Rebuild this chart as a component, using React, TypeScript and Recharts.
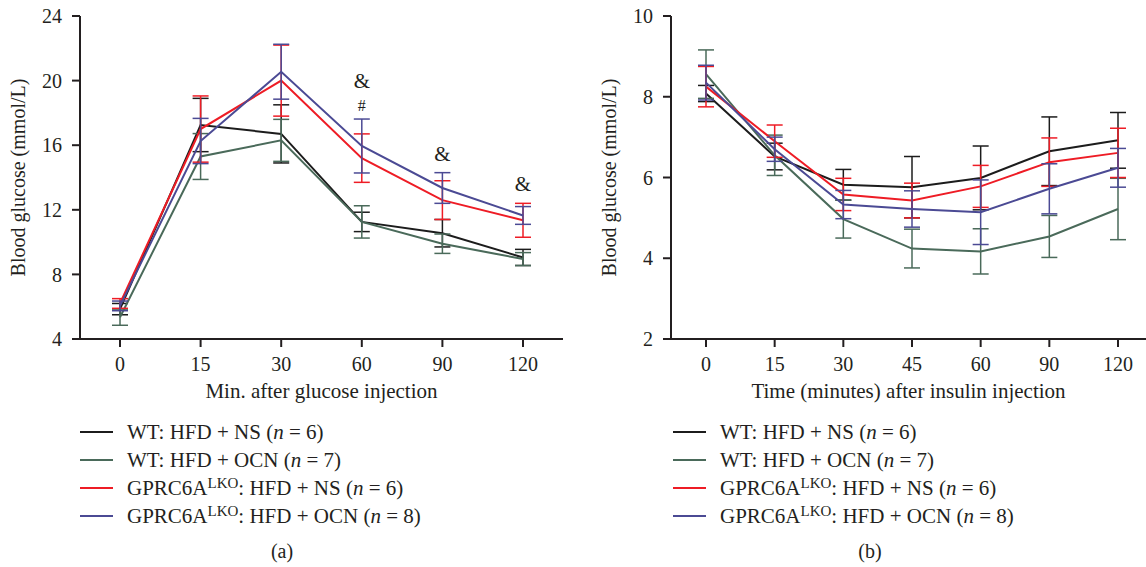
import React from 'react';
import {
  LineChart,
  Line,
  XAxis,
  YAxis,
  ErrorBar,
  Legend,
  ReferenceDot,
} from 'recharts';

const FONT = '"Liberation Serif", "DejaVu Serif", serif';
const INK = '#231f20';

// (a) glucose tolerance test
const gttTimes = ['0', '15', '30', '60', '90', '120'];
const gttWtNs = [5.85, 17.25, 16.7, 11.25, 10.55, 9.05];
const gttWtNsErr = [0.35, 1.65, 1.8, 0.6, 0.85, 0.5];
const gttWtOcn = [5.35, 15.3, 16.3, 11.25, 9.9, 8.95];
const gttWtOcnErr = [0.5, 1.42, 1.3, 1.0, 0.6, 0.4];
const gttKoNs = [6.2, 17.0, 20.0, 15.2, 12.6, 11.35];
const gttKoNsErr = [0.3, 2.05, 2.2, 1.5, 1.2, 1.05];
const gttKoOcn = [6.05, 16.26, 20.55, 15.95, 13.35, 11.65];
const gttKoOcnErr = [0.3, 1.4, 1.7, 1.67, 0.95, 0.55];
const gttTicks = [4, 8, 12, 16, 20, 24];

// significance marks on (a)
const gttMarkTime = ['60', '60', '90', '120'];
const gttMarkText = ['&', '#', '&', '&'];
const gttMarkLevel = [20.0, 18.5, 15.5, 13.65];

// (b) insulin tolerance test
const ittTimes = ['0', '15', '30', '45', '60', '90', '120'];
const ittWtNs = [8.08, 6.52, 5.82, 5.76, 5.99, 6.65, 6.92];
const ittWtNsErr = [0.2, 0.33, 0.38, 0.76, 0.79, 0.85, 0.69];
const ittWtOcn = [8.56, 6.55, 4.97, 4.24, 4.17, 4.54, 5.22];
const ittWtOcnErr = [0.6, 0.5, 0.47, 0.48, 0.56, 0.52, 0.76];
const ittKoNs = [8.25, 6.9, 5.58, 5.43, 5.78, 6.38, 6.61];
const ittKoNsErr = [0.5, 0.4, 0.4, 0.43, 0.52, 0.6, 0.61];
const ittKoOcn = [8.35, 6.7, 5.33, 5.22, 5.14, 5.72, 6.24];
const ittKoOcnErr = [0.43, 0.3, 0.35, 0.45, 0.8, 0.62, 0.48];
const ittTicks = [2, 4, 6, 8, 10];

const SERIES = [
  { key: 'wtNs', color: '#1c1c1c', strain: 'WT', sup: '', treat: 'NS', n: 6 },
  { key: 'wtOcn', color: '#4a6a5a', strain: 'WT', sup: '', treat: 'OCN', n: 7 },
  { key: 'koNs', color: '#ee1c25', strain: 'GPRC6A', sup: 'LKO', treat: 'NS', n: 6 },
  { key: 'koOcn', color: '#4b4a94', strain: 'GPRC6A', sup: 'LKO', treat: 'OCN', n: 8 },
];

const gttRows = gttTimes.map((t, i) => ({
  time: t,
  wtNs: gttWtNs[i], wtNsErr: gttWtNsErr[i],
  wtOcn: gttWtOcn[i], wtOcnErr: gttWtOcnErr[i],
  koNs: gttKoNs[i], koNsErr: gttKoNsErr[i],
  koOcn: gttKoOcn[i], koOcnErr: gttKoOcnErr[i],
}));

const ittRows = ittTimes.map((t, i) => ({
  time: t,
  wtNs: ittWtNs[i], wtNsErr: ittWtNsErr[i],
  wtOcn: ittWtOcn[i], wtOcnErr: ittWtOcnErr[i],
  koNs: ittKoNs[i], koNsErr: ittKoNsErr[i],
  koOcn: ittKoOcn[i], koOcnErr: ittKoOcnErr[i],
}));

const GroupLegend = () => (
  <div style={{ fontFamily: FONT, fontSize: 21, color: INK }}>
    {SERIES.map((s) => (
      <div key={s.key} style={{ display: 'flex', alignItems: 'center', height: 28 }}>
        <svg width={33} height={4}>
          <line x1={0} y1={2} x2={33} y2={2} stroke={s.color} strokeWidth={2} />
        </svg>
        <span style={{ marginLeft: 14, whiteSpace: 'nowrap' }}>
          {s.strain}
          {s.sup && (
            <span style={{ fontSize: 15, position: 'relative', top: -7 }}>{s.sup}</span>
          )}
          : HFD + {s.treat} (<i>n</i> = {s.n})
        </span>
      </div>
    ))}
  </div>
);

interface PanelProps {
  rows: any[];
  left: number;
  width: number;
  domain: [number, number];
  ticks: number[];
  xTitle: string;
  padding: { left: number; right: number };
  legendLeft: number;
  marks?: boolean;
}

const Panel: React.FC<PanelProps> = ({ rows, left, width, domain, ticks, xTitle, padding, legendLeft, marks }) => (
  <div style={{ position: 'absolute', left, top: 0 }}>
    <LineChart
      width={width}
      height={567}
      data={rows}
      margin={{ top: 16, right: 0, bottom: 168, left: 0 }}
    >
      <XAxis
        dataKey="time"
        interval={0}
        padding={padding}
        height={60}
        tickSize={8}
        tickMargin={10}
        axisLine={{ stroke: INK, strokeWidth: 2 }}
        tickLine={{ stroke: INK, strokeWidth: 2 }}
        tick={{ fontSize: 20, fill: INK, fontFamily: FONT }}
        label={{ value: xTitle, position: 'insideBottom', offset: 1, fontSize: 21, fill: INK, fontFamily: FONT }}
      />
      <YAxis
        domain={domain}
        ticks={ticks}
        width={80}
        tickSize={8}
        tickMargin={10}
        axisLine={{ stroke: INK, strokeWidth: 2 }}
        tickLine={{ stroke: INK, strokeWidth: 2 }}
        tick={{ fontSize: 20, fill: INK, fontFamily: FONT }}
        label={{
          value: 'Blood glucose (mmol/L)',
          angle: -90,
          position: 'insideLeft',
          offset: 18,
          fontSize: 20,
          fill: INK,
          fontFamily: FONT,
          style: { textAnchor: 'middle' },
        }}
      />
      {SERIES.map((s) => (
        <Line
          key={s.key}
          dataKey={s.key}
          stroke={s.color}
          strokeWidth={2}
          dot={false}
          activeDot={false}
          isAnimationActive={false}
        >
          <ErrorBar
            dataKey={`${s.key}Err`}
            width={8}
            stroke={s.color}
            strokeWidth={1.5}
            isAnimationActive={false}
          />
        </Line>
      ))}
      {marks &&
        gttMarkTime.map((t, i) => (
          <ReferenceDot
            key={`mark-${i}`}
            x={t}
            y={gttMarkLevel[i]}
            r={1}
            fill="none"
            stroke="none"
            label={{
              value: gttMarkText[i],
              position: 'center',
              fontSize: gttMarkText[i] === '#' ? 16 : 21,
              fill: INK,
              fontFamily: FONT,
            }}
          />
        ))}
      <Legend
        layout="vertical"
        align="center"
        verticalAlign="middle"
        wrapperStyle={{ left: legendLeft, top: 418, width: 'auto' }}
        content={() => <GroupLegend />}
      />
    </LineChart>
  </div>
);

const Caption = ({ text, center }: { text: string; center: number }) => (
  <div
    style={{
      position: 'absolute',
      left: center - 50,
      top: 538,
      width: 100,
      textAlign: 'center',
      fontFamily: FONT,
      fontSize: 20,
      lineHeight: '26px',
      color: INK,
    }}
  >
    {text}
  </div>
);

export default function App() {
  return (
    <div style={{ position: 'absolute', left: 0, top: 0, width: 1146, height: 567, background: '#fff', overflow: 'hidden' }}>
      <Panel
        rows={gttRows}
        left={0}
        width={563}
        domain={[4, 24]}
        ticks={gttTicks}
        xTitle="Min. after glucose injection"
        padding={{ left: 40, right: 40 }}
        legendLeft={80}
        marks
      />
      <Panel
        rows={ittRows}
        left={591}
        width={555}
        domain={[2, 10]}
        ticks={ittTicks}
        xTitle="Time (minutes) after insulin injection"
        padding={{ left: 35, right: 28 }}
        legendLeft={82}
      />
      <Caption text="(a)" center={282} />
      <Caption text="(b)" center={870} />
    </div>
  );
}
